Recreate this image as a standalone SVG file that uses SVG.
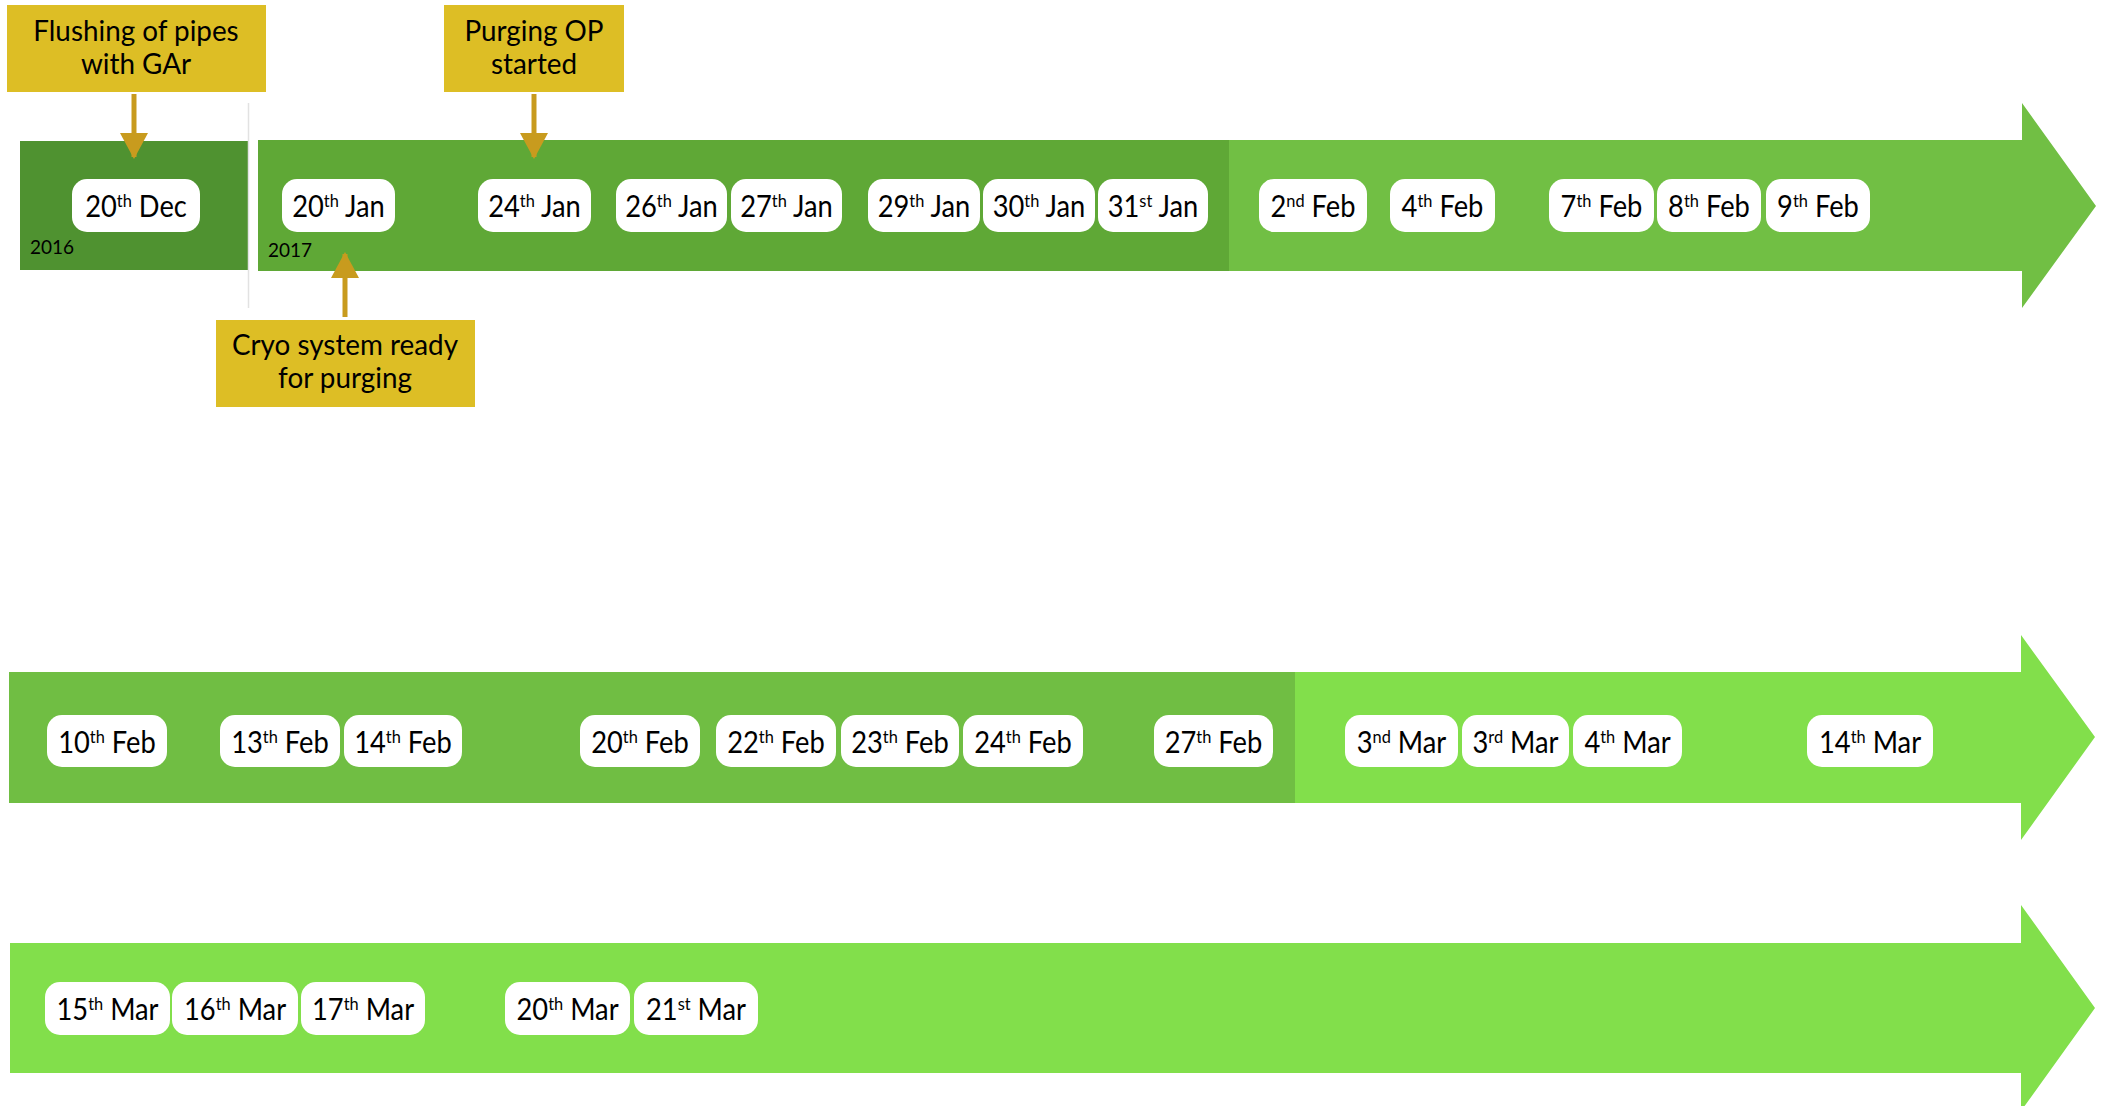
<svg xmlns="http://www.w3.org/2000/svg" width="2105" height="1106" viewBox="0 0 2105 1106">
<style>
.callout{fill:#DDBE25}
.ctext{font-family:Lato,"Open Sans","Liberation Sans",sans-serif;font-size:29px;fill:#000;text-anchor:middle;transform-box:fill-box;transform-origin:center;transform:scaleX(0.96)}
.pill{fill:#fff}
.ptext{font-family:Lato,"Open Sans","Liberation Sans",sans-serif;font-size:30px;fill:#000;text-anchor:middle;transform-box:fill-box;transform-origin:center;transform:scaleX(0.91)}
.sup{font-size:18px}
.year{font-family:Lato,"Open Sans","Liberation Sans",sans-serif;font-size:19px;fill:#000}
.conn{stroke:#C89B1E;stroke-width:5;fill:none}
</style>
<defs>
<marker id="ah" markerUnits="userSpaceOnUse" markerWidth="26" markerHeight="28" viewBox="0 0 26 28" refX="24" refY="14" orient="auto">
<path d="M0,0 L26,14 L0,28 Z" fill="#C89B1E"/>
</marker>
</defs>
<rect width="2105" height="1106" fill="#fff"/>

<g id="timeline-row1">
<rect x="20" y="141" width="228" height="129" fill="#4F9230"/>
<line x1="248.5" y1="103" x2="248.5" y2="308" stroke="#E2E2E2" stroke-width="1.5"/>
<rect x="258" y="140" width="972" height="131" fill="#5FA836"/>
<path d="M1229,140 L2022,140 L2022,103 L2096,206 L2022,308 L2022,271 L1229,271 Z" fill="#71BF44"/>
<text class="year" x="30" y="254">2016</text>
<text class="year" x="268" y="257">2017</text>
</g>

<g id="timeline-row2">
<rect x="9" y="672" width="1287" height="131" fill="#70BE43"/>
<path d="M1295,672 L2021,672 L2021,635 L2095,737 L2021,840 L2021,803 L1295,803 Z" fill="#82DF4B"/>
</g>

<g id="timeline-row3">
<path d="M10,943 L2021,943 L2021,905 L2095,1008 L2021,1111 L2021,1073 L10,1073 Z" fill="#82DF4B"/>
</g>

<g id="callout-flushing">
<rect class="callout" x="7" y="5" width="259" height="87"/>
<text class="ctext" x="136" y="41">Flushing of pipes</text>
<text class="ctext" x="136" y="74">with GAr</text>
</g>
<g id="callout-purging">
<rect class="callout" x="444" y="5" width="180" height="87"/>
<text class="ctext" x="534" y="41">Purging OP</text>
<text class="ctext" x="534" y="74">started</text>
</g>
<g id="callout-cryo">
<rect class="callout" x="216" y="320" width="259" height="87"/>
<text class="ctext" x="345" y="355">Cryo system ready</text>
<text class="ctext" x="345" y="388">for purging</text>
</g>

<g id="connectors">
<line class="conn" x1="134" y1="94" x2="134" y2="157" marker-end="url(#ah)"/>
<line class="conn" x1="534" y1="94" x2="534" y2="157" marker-end="url(#ah)"/>
<line class="conn" x1="345" y1="317" x2="345" y2="254" marker-end="url(#ah)"/>
</g>

<g id="d-20dec"><rect class="pill" x="72" y="179" width="128" height="53" rx="15"/><text class="ptext" x="136" y="217">20<tspan class="sup" dy="-10">th</tspan><tspan dy="10"> Dec</tspan></text></g>
<g id="d-20jan"><rect class="pill" x="282" y="179" width="113" height="53" rx="15"/><text class="ptext" x="338.5" y="217">20<tspan class="sup" dy="-10">th</tspan><tspan dy="10"> Jan</tspan></text></g>
<g id="d-24jan"><rect class="pill" x="478" y="179" width="113" height="53" rx="15"/><text class="ptext" x="534.5" y="217">24<tspan class="sup" dy="-10">th</tspan><tspan dy="10"> Jan</tspan></text></g>
<g id="d-26jan"><rect class="pill" x="616" y="179" width="111" height="53" rx="15"/><text class="ptext" x="671.5" y="217">26<tspan class="sup" dy="-10">th</tspan><tspan dy="10"> Jan</tspan></text></g>
<g id="d-27jan"><rect class="pill" x="731" y="179" width="111" height="53" rx="15"/><text class="ptext" x="786.5" y="217">27<tspan class="sup" dy="-10">th</tspan><tspan dy="10"> Jan</tspan></text></g>
<g id="d-29jan"><rect class="pill" x="868" y="179" width="112" height="53" rx="15"/><text class="ptext" x="924" y="217">29<tspan class="sup" dy="-10">th</tspan><tspan dy="10"> Jan</tspan></text></g>
<g id="d-30jan"><rect class="pill" x="983" y="179" width="112" height="53" rx="15"/><text class="ptext" x="1039" y="217">30<tspan class="sup" dy="-10">th</tspan><tspan dy="10"> Jan</tspan></text></g>
<g id="d-31jan"><rect class="pill" x="1098" y="179" width="110" height="53" rx="15"/><text class="ptext" x="1153" y="217">31<tspan class="sup" dy="-10">st</tspan><tspan dy="10"> Jan</tspan></text></g>
<g id="d-2feb"><rect class="pill" x="1259" y="179" width="108" height="53" rx="15"/><text class="ptext" x="1313" y="217">2<tspan class="sup" dy="-10">nd</tspan><tspan dy="10"> Feb</tspan></text></g>
<g id="d-4feb"><rect class="pill" x="1390" y="179" width="105" height="53" rx="15"/><text class="ptext" x="1442.5" y="217">4<tspan class="sup" dy="-10">th</tspan><tspan dy="10"> Feb</tspan></text></g>
<g id="d-7feb"><rect class="pill" x="1549" y="179" width="105" height="53" rx="15"/><text class="ptext" x="1601.5" y="217">7<tspan class="sup" dy="-10">th</tspan><tspan dy="10"> Feb</tspan></text></g>
<g id="d-8feb"><rect class="pill" x="1657" y="179" width="104" height="53" rx="15"/><text class="ptext" x="1709" y="217">8<tspan class="sup" dy="-10">th</tspan><tspan dy="10"> Feb</tspan></text></g>
<g id="d-9feb"><rect class="pill" x="1766" y="179" width="104" height="53" rx="15"/><text class="ptext" x="1818" y="217">9<tspan class="sup" dy="-10">th</tspan><tspan dy="10"> Feb</tspan></text></g>

<g id="d-10feb"><rect class="pill" x="47" y="715" width="120" height="52" rx="15"/><text class="ptext" x="107" y="753">10<tspan class="sup" dy="-10">th</tspan><tspan dy="10"> Feb</tspan></text></g>
<g id="d-13feb"><rect class="pill" x="220" y="715" width="120" height="52" rx="15"/><text class="ptext" x="280" y="753">13<tspan class="sup" dy="-10">th</tspan><tspan dy="10"> Feb</tspan></text></g>
<g id="d-14feb"><rect class="pill" x="344" y="715" width="118" height="52" rx="15"/><text class="ptext" x="403" y="753">14<tspan class="sup" dy="-10">th</tspan><tspan dy="10"> Feb</tspan></text></g>
<g id="d-20feb"><rect class="pill" x="580" y="715" width="120" height="52" rx="15"/><text class="ptext" x="640" y="753">20<tspan class="sup" dy="-10">th</tspan><tspan dy="10"> Feb</tspan></text></g>
<g id="d-22feb"><rect class="pill" x="716" y="715" width="120" height="52" rx="15"/><text class="ptext" x="776" y="753">22<tspan class="sup" dy="-10">th</tspan><tspan dy="10"> Feb</tspan></text></g>
<g id="d-23feb"><rect class="pill" x="841" y="715" width="118" height="52" rx="15"/><text class="ptext" x="900" y="753">23<tspan class="sup" dy="-10">th</tspan><tspan dy="10"> Feb</tspan></text></g>
<g id="d-24feb"><rect class="pill" x="963" y="715" width="120" height="52" rx="15"/><text class="ptext" x="1023" y="753">24<tspan class="sup" dy="-10">th</tspan><tspan dy="10"> Feb</tspan></text></g>
<g id="d-27feb"><rect class="pill" x="1154" y="715" width="119" height="52" rx="15"/><text class="ptext" x="1213.5" y="753">27<tspan class="sup" dy="-10">th</tspan><tspan dy="10"> Feb</tspan></text></g>
<g id="d-3ndmar"><rect class="pill" x="1345" y="715" width="113" height="52" rx="15"/><text class="ptext" x="1401.5" y="753">3<tspan class="sup" dy="-10">nd</tspan><tspan dy="10"> Mar</tspan></text></g>
<g id="d-3rdmar"><rect class="pill" x="1462" y="715" width="107" height="52" rx="15"/><text class="ptext" x="1515.5" y="753">3<tspan class="sup" dy="-10">rd</tspan><tspan dy="10"> Mar</tspan></text></g>
<g id="d-4mar"><rect class="pill" x="1573" y="715" width="109" height="52" rx="15"/><text class="ptext" x="1627.5" y="753">4<tspan class="sup" dy="-10">th</tspan><tspan dy="10"> Mar</tspan></text></g>
<g id="d-14mar"><rect class="pill" x="1807" y="715" width="126" height="52" rx="15"/><text class="ptext" x="1870" y="753">14<tspan class="sup" dy="-10">th</tspan><tspan dy="10"> Mar</tspan></text></g>

<g id="d-15mar"><rect class="pill" x="45" y="982" width="125" height="53" rx="15"/><text class="ptext" x="107.5" y="1020">15<tspan class="sup" dy="-10">th</tspan><tspan dy="10"> Mar</tspan></text></g>
<g id="d-16mar"><rect class="pill" x="172" y="982" width="126" height="53" rx="15"/><text class="ptext" x="235" y="1020">16<tspan class="sup" dy="-10">th</tspan><tspan dy="10"> Mar</tspan></text></g>
<g id="d-17mar"><rect class="pill" x="301" y="982" width="124" height="53" rx="15"/><text class="ptext" x="363" y="1020">17<tspan class="sup" dy="-10">th</tspan><tspan dy="10"> Mar</tspan></text></g>
<g id="d-20mar"><rect class="pill" x="505" y="982" width="125" height="53" rx="15"/><text class="ptext" x="567.5" y="1020">20<tspan class="sup" dy="-10">th</tspan><tspan dy="10"> Mar</tspan></text></g>
<g id="d-21mar"><rect class="pill" x="634" y="982" width="124" height="53" rx="15"/><text class="ptext" x="696" y="1020">21<tspan class="sup" dy="-10">st</tspan><tspan dy="10"> Mar</tspan></text></g>
</svg>
